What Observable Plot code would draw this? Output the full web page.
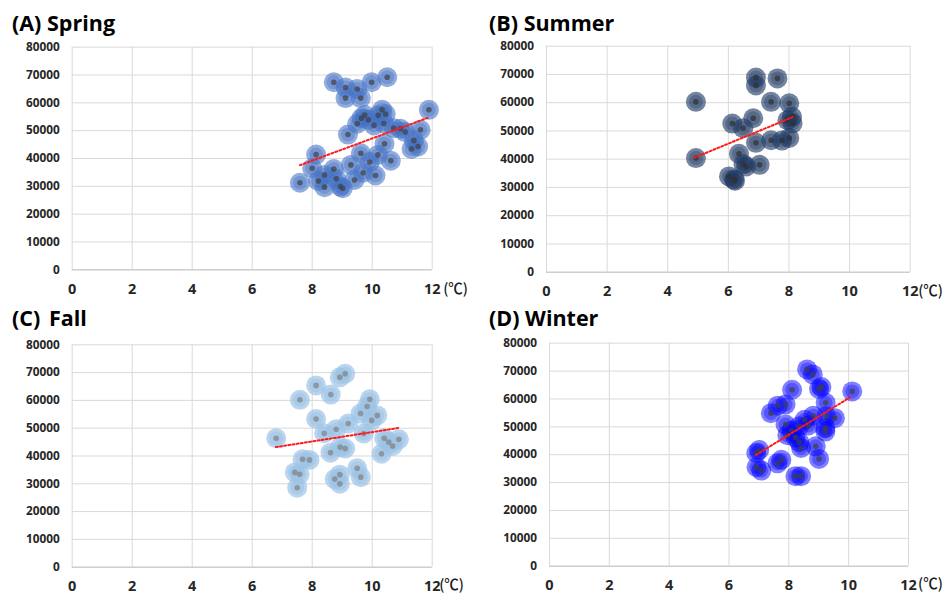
<!DOCTYPE html>
<html><head><meta charset="utf-8">
<script src="https://cdn.jsdelivr.net/npm/d3@7"></script>
<script src="https://cdn.jsdelivr.net/npm/@observablehq/plot@0.6"></script>
<style>
body{margin:0;background:#fff;}
#wrap{position:relative;width:944px;height:594px;overflow:hidden;font-family:"Open Sans",sans-serif;background:#fff;}
.title{position:absolute;font-weight:700;font-size:21.5px;line-height:21.5px;color:#000;white-space:pre;}
.panel{position:absolute;}
</style></head><body><div id="wrap"></div>
<script>
// ---- tick labels ----
const xTicks = [0, 2, 4, 6, 8, 10, 12];
const yTicks = [0, 10000, 20000, 30000, 40000, 50000, 60000, 70000, 80000];
const unitLabel = "(℃)";

// ---- categories ----
const panelLetters = ["(A)", "(B)", "(C)", "(D)"];
const seasons = ["Spring", "Summer", "Fall", "Winter"];

// ---- series values (temperature ℃, count) ----
const springTemp = [7.59, 8.72, 9.11, 9.50, 9.98, 10.50, 9.11, 9.62, 11.89, 10.33, 9.64, 9.50, 10.39, 10.72, 11.61, 9.19, 10.41, 11.39, 11.31, 11.53, 8.13, 9.62, 10.19, 9.29, 9.92, 10.62, 8.00, 8.72, 8.41, 9.70, 10.11, 8.80, 8.20, 9.41, 8.41, 8.94, 9.02, 9.87, 10.06, 10.94, 10.20, 11.10, 10.45, 9.75];
const springCount = [31300, 67400, 65500, 65000, 67400, 69200, 61700, 61700, 57500, 57500, 54500, 52500, 52600, 50900, 50300, 48600, 45300, 46500, 43400, 44300, 41400, 41900, 41300, 37700, 38700, 39200, 36500, 36200, 34100, 34900, 33900, 32700, 31900, 32300, 29700, 29900, 29300, 53900, 51900, 50700, 55500, 49500, 56000, 55600];

const summerTemp = [4.93, 4.93, 6.91, 6.91, 7.62, 7.41, 8.01, 6.82, 6.13, 6.49, 8.10, 7.95, 8.12, 6.91, 7.41, 7.77, 8.01, 6.35, 6.59, 7.03, 6.02, 6.19, 6.22, 6.50];
const summerCount = [60300, 40400, 68900, 66100, 68600, 60300, 59800, 54500, 52600, 51000, 55000, 53800, 52700, 45800, 46700, 46600, 47500, 41900, 37400, 38000, 33900, 32800, 32400, 38200];

const fallTemp = [6.80, 7.59, 8.13, 8.62, 9.10, 8.92, 9.92, 9.83, 9.61, 10.17, 9.98, 8.13, 9.20, 8.80, 8.40, 9.72, 10.40, 10.89, 10.68, 8.93, 9.10, 8.61, 10.31, 7.91, 7.68, 9.50, 7.42, 7.58, 8.92, 9.62, 8.75, 8.92, 7.50, 10.55];
const fallCount = [46400, 60200, 65400, 62100, 69600, 68300, 60400, 57800, 55300, 54600, 52800, 53300, 51700, 49600, 48200, 48100, 46400, 46000, 43600, 43200, 42700, 41200, 40800, 38600, 38800, 35600, 34100, 33400, 33300, 32400, 31700, 30000, 28600, 45000];

const winterTemp = [8.61, 8.80, 8.11, 9.09, 9.01, 10.12, 9.23, 7.89, 7.63, 7.40, 9.25, 9.54, 8.82, 8.53, 7.89, 9.22, 9.22, 8.22, 8.41, 8.90, 7.01, 6.91, 7.75, 7.62, 9.01, 6.92, 7.08, 8.22, 8.41, 8.10, 8.35, 8.35, 8.65, 7.95];
const winterCount = [70600, 68800, 63300, 64300, 63600, 62700, 58600, 58000, 57600, 54900, 53800, 53100, 54000, 52500, 50800, 49600, 48300, 46200, 42400, 43000, 41700, 40600, 38200, 36900, 38500, 35500, 34300, 32300, 32300, 48600, 50200, 44500, 50500, 47000];

// ---- trend line end points ----
const springTrendTemp = [7.59, 11.85], springTrendCount = [37600, 54600];
const summerTrendTemp = [4.87, 8.12], summerTrendCount = [40500, 54900];
const fallTrendTemp = [6.79, 10.89], fallTrendCount = [43200, 50100];
const winterTrendTemp = [6.90, 10.05], winterTrendCount = [39900, 60600];

const zip = (xs, ys) => xs.map((t, i) => ({t, v: ys[i]}));
const series = [
  {pts: zip(springTemp, springCount), trend: zip(springTrendTemp, springTrendCount)},
  {pts: zip(summerTemp, summerCount), trend: zip(summerTrendTemp, summerTrendCount)},
  {pts: zip(fallTemp, fallCount), trend: zip(fallTrendTemp, fallTrendCount)},
  {pts: zip(winterTemp, winterCount), trend: zip(winterTrendTemp, winterTrendCount)}
];

// ---- layout / style ----
const layout = [
  {left: 0, top: 0, h: 300, ml: 71.7, mr: 40.3, mt: 46.7, mb: 30.7, unitDx: 11, unitDy: 19.4, tl: 12, tt: 11.5, gap: 0,
   color: "#4472C4", o1: 0.58, o2: 0.38, dot: "#404040"},
  {left: 472, top: 0, h: 300, ml: 74, mr: 34.3, mt: 45.7, mb: 28.3, unitDx: 8, unitDy: 19.4, tl: 489, tt: 11.5, gap: 0,
   color: "#1F3864", o1: 0.62, o2: 0.35, dot: "#303030"},
  {left: 0, top: 300, h: 294, ml: 71.7, mr: 40.3, mt: 44.3, mb: 27.3, unitDx: 7, unitDy: 18.6, tl: 12, tt: 307, gap: 3,
   color: "#9DC3E6", o1: 0.7, o2: 0.55, dot: "#808080"},
  {left: 472, top: 300, h: 294, ml: 77, mr: 36, mt: 42.7, mb: 28.3, unitDx: 9.5, unitDy: 18.6, tl: 489, tt: 306.5, gap: 0,
   color: "#0000FF", o1: 0.5, o2: 0.33, dot: "#404040"}
];

const wrap = document.getElementById("wrap");

layout.forEach((L, i) => {
  const s = series[i];
  const chart = Plot.plot({
    width: 472, height: L.h,
    marginLeft: L.ml, marginRight: L.mr, marginTop: L.mt, marginBottom: L.mb,
    x: {domain: [0, 12], label: null},
    y: {domain: [0, 80000], label: null},
    style: {fontFamily: "'Open Sans', sans-serif", background: "transparent", overflow: "visible"},
    marks: [
      Plot.ruleX(xTicks, {stroke: "#d9d9d9", strokeWidth: 1}),
      Plot.ruleY(yTicks, {stroke: "#d9d9d9", strokeWidth: 1}),
      Plot.ruleY([0], {stroke: "#c4c4c4", strokeWidth: 1}),
      Plot.axisX({ticks: xTicks, tickSize: 0, tickPadding: 14, fontSize: 14.5, fontWeight: 700, fill: "#262626", tickFormat: d => String(d)}),
      Plot.axisY({ticks: yTicks, tickSize: 0, tickPadding: 12.5, fontSize: 11.8, fontWeight: 700, fill: "#262626", tickFormat: d => String(d)}),
      Plot.text([12], {x: d => d, y: () => 0, text: () => unitLabel, dx: L.unitDx, dy: L.unitDy, textAnchor: "start",
        fontSize: 14.5, fontWeight: 500, fontFamily: "'Noto Sans CJK KR', sans-serif", fill: "#1a1a1a"}),
      Plot.dot(s.pts, {x: "t", y: "v", r: 10, fill: L.color, fillOpacity: L.o1}),
      Plot.dot(s.pts, {x: "t", y: "v", r: 7, fill: L.color, fillOpacity: L.o2}),
      Plot.dot(s.pts, {x: "t", y: "v", r: 2.8, fill: L.dot, fillOpacity: 0.7}),
      Plot.line(s.trend, {x: "t", y: "v", stroke: "#ff1a1a", strokeWidth: 2, strokeDasharray: "2,2.2"})
    ]
  });
  const box = document.createElement("div");
  box.className = "panel";
  box.style.left = L.left + "px";
  box.style.top = L.top + "px";
  box.appendChild(chart);
  wrap.appendChild(box);

  const t = document.createElement("div");
  t.className = "title";
  t.style.left = L.tl + "px";
  t.style.top = L.tt + "px";
  const a = document.createElement("span"); a.textContent = panelLetters[i];
  const b = document.createElement("span"); b.textContent = seasons[i];
  b.style.marginLeft = L.gap + "px";
  t.appendChild(a); t.appendChild(document.createTextNode(" ")); t.appendChild(b);
  wrap.appendChild(t);
});
</script>
</body></html>
